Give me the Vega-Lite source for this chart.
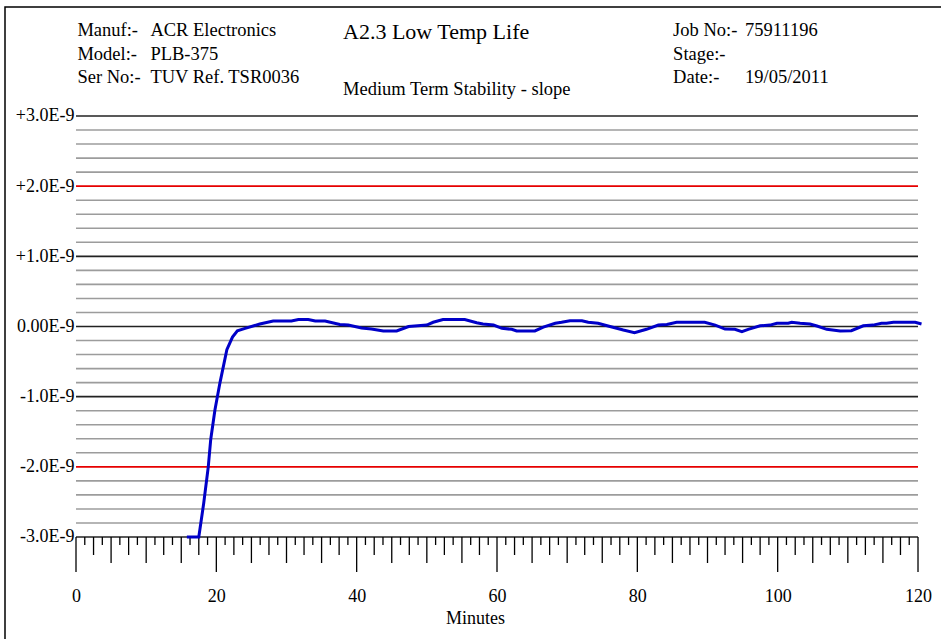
{
  "$schema": "https://vega.github.io/schema/vega-lite/v6.json",
  "width": 940,
  "height": 636,
  "autosize": {"type": "none"},
  "padding": {"left": 5, "top": 7, "right": 0, "bottom": 0},
  "background": "white",
  "config": {
    "view": {"stroke": "#000000", "strokeWidth": 1.5},
    "font": "Liberation Serif",
    "axis": {"grid": false, "domain": false, "ticks": false, "labels": false}
  },
  "datasets": {
    "grid": [
      {"g": -3}, {"g": -2.8}, {"g": -2.6}, {"g": -2.4}, {"g": -2.2},
      {"g": -2}, {"g": -1.8}, {"g": -1.6}, {"g": -1.4}, {"g": -1.2},
      {"g": -1}, {"g": -0.8}, {"g": -0.6}, {"g": -0.4}, {"g": -0.2},
      {"g": 0}, {"g": 0.2}, {"g": 0.4}, {"g": 0.6}, {"g": 0.8},
      {"g": 1}, {"g": 1.2}, {"g": 1.4}, {"g": 1.6}, {"g": 1.8},
      {"g": 2}, {"g": 2.2}, {"g": 2.4}, {"g": 2.6}, {"g": 2.8}, {"g": 3}
    ],
    "ticks": [
      {"t": 0}, {"t": 1.25}, {"t": 2.5}, {"t": 3.75}, {"t": 5}, {"t": 6.25}, {"t": 7.5}, {"t": 8.75},
      {"t": 10}, {"t": 11.25}, {"t": 12.5}, {"t": 13.75}, {"t": 15}, {"t": 16.25}, {"t": 17.5}, {"t": 18.75},
      {"t": 20}, {"t": 21.25}, {"t": 22.5}, {"t": 23.75}, {"t": 25}, {"t": 26.25}, {"t": 27.5}, {"t": 28.75},
      {"t": 30}, {"t": 31.25}, {"t": 32.5}, {"t": 33.75}, {"t": 35}, {"t": 36.25}, {"t": 37.5}, {"t": 38.75},
      {"t": 40}, {"t": 41.25}, {"t": 42.5}, {"t": 43.75}, {"t": 45}, {"t": 46.25}, {"t": 47.5}, {"t": 48.75},
      {"t": 50}, {"t": 51.25}, {"t": 52.5}, {"t": 53.75}, {"t": 55}, {"t": 56.25}, {"t": 57.5}, {"t": 58.75},
      {"t": 60}, {"t": 61.25}, {"t": 62.5}, {"t": 63.75}, {"t": 65}, {"t": 66.25}, {"t": 67.5}, {"t": 68.75},
      {"t": 70}, {"t": 71.25}, {"t": 72.5}, {"t": 73.75}, {"t": 75}, {"t": 76.25}, {"t": 77.5}, {"t": 78.75},
      {"t": 80}, {"t": 81.25}, {"t": 82.5}, {"t": 83.75}, {"t": 85}, {"t": 86.25}, {"t": 87.5}, {"t": 88.75},
      {"t": 90}, {"t": 91.25}, {"t": 92.5}, {"t": 93.75}, {"t": 95}, {"t": 96.25}, {"t": 97.5}, {"t": 98.75},
      {"t": 100}, {"t": 101.25}, {"t": 102.5}, {"t": 103.75}, {"t": 105}, {"t": 106.25}, {"t": 107.5}, {"t": 108.75},
      {"t": 110}, {"t": 111.25}, {"t": 112.5}, {"t": 113.75}, {"t": 115}, {"t": 116.25}, {"t": 117.5}, {"t": 118.75},
      {"t": 120}
    ],
    "slope": [
      {"t": 15.8, "v": -3.0}, {"t": 17.5, "v": -3.0}, {"t": 18.2, "v": -2.52}, {"t": 18.85, "v": -2.0},
      {"t": 19.2, "v": -1.61}, {"t": 19.8, "v": -1.19}, {"t": 20.5, "v": -0.81}, {"t": 21.5, "v": -0.33},
      {"t": 22.3, "v": -0.15}, {"t": 23.0, "v": -0.06}, {"t": 24.1, "v": -0.026}, {"t": 26.2, "v": 0.035},
      {"t": 28.1, "v": 0.078}, {"t": 30.7, "v": 0.078}, {"t": 31.7, "v": 0.1}, {"t": 33.1, "v": 0.1},
      {"t": 34.1, "v": 0.078}, {"t": 35.5, "v": 0.078}, {"t": 37.6, "v": 0.03}, {"t": 38.8, "v": 0.02},
      {"t": 40.7, "v": -0.02}, {"t": 42.1, "v": -0.035}, {"t": 43.8, "v": -0.064}, {"t": 45.7, "v": -0.064},
      {"t": 47.4, "v": 0.0}, {"t": 50.0, "v": 0.02}, {"t": 50.9, "v": 0.06}, {"t": 52.3, "v": 0.1},
      {"t": 55.4, "v": 0.1}, {"t": 57.1, "v": 0.054}, {"t": 58.0, "v": 0.036}, {"t": 59.5, "v": 0.02},
      {"t": 60.7, "v": -0.026}, {"t": 62.1, "v": -0.04}, {"t": 62.8, "v": -0.064}, {"t": 65.4, "v": -0.064},
      {"t": 66.6, "v": -0.01}, {"t": 68.3, "v": 0.046}, {"t": 69.2, "v": 0.06}, {"t": 70.4, "v": 0.083},
      {"t": 72.1, "v": 0.083}, {"t": 73.0, "v": 0.06}, {"t": 74.4, "v": 0.046}, {"t": 76.1, "v": 0.0},
      {"t": 78.0, "v": -0.05}, {"t": 79.6, "v": -0.088}, {"t": 81.3, "v": -0.04}, {"t": 83.0, "v": 0.02},
      {"t": 84.2, "v": 0.03}, {"t": 85.6, "v": 0.06}, {"t": 89.6, "v": 0.06}, {"t": 91.1, "v": 0.02},
      {"t": 92.5, "v": -0.036}, {"t": 93.9, "v": -0.04}, {"t": 94.9, "v": -0.074}, {"t": 95.8, "v": -0.04},
      {"t": 97.5, "v": 0.01}, {"t": 98.9, "v": 0.02}, {"t": 99.9, "v": 0.046}, {"t": 101.5, "v": 0.046},
      {"t": 102.0, "v": 0.06}, {"t": 103.2, "v": 0.046}, {"t": 104.6, "v": 0.036}, {"t": 105.6, "v": 0.007},
      {"t": 107.0, "v": -0.04}, {"t": 108.9, "v": -0.064}, {"t": 110.5, "v": -0.06}, {"t": 112.2, "v": 0.01},
      {"t": 113.6, "v": 0.02}, {"t": 114.8, "v": 0.046}, {"t": 115.5, "v": 0.046}, {"t": 116.5, "v": 0.06},
      {"t": 119.6, "v": 0.06}, {"t": 120.5, "v": 0.036}
    ]
  },
  "layer": [
    {
      "data": {"name": "grid"},
      "mark": {"type": "rule", "strokeWidth": 1.6},
      "encoding": {
        "y": {"field": "g", "type": "quantitative", "title": null, "scale": {"domain": [-4.5107, 4.5534], "nice": false, "zero": false}},
        "x": {"datum": 0, "type": "quantitative", "title": "Minutes", "scale": {"domain": [-10.119, 123.847], "nice": false, "zero": false}},
        "x2": {"datum": 120},
        "color": {
          "condition": [
            {"test": "abs(datum.g) == 2", "value": "#e60000"},
            {"test": "datum.g == round(datum.g)", "value": "#222222"}
          ],
          "value": "#9c9c9c"
        }
      }
    },
    {
      "data": {"name": "ticks"},
      "transform": [{"filter": "datum.t % 20 == 0"}],
      "mark": {"type": "rule", "strokeWidth": 1.3, "color": "#000000"},
      "encoding": {
        "x": {"field": "t", "type": "quantitative", "title": "Minutes"},
        "y": {"datum": -3, "type": "quantitative", "title": null},
        "y2": {"datum": -3.4988}
      }
    },
    {
      "data": {"name": "ticks"},
      "transform": [{"filter": "datum.t % 20 != 0 && datum.t % 5 == 0"}],
      "mark": {"type": "rule", "strokeWidth": 1.3, "color": "#000000"},
      "encoding": {
        "x": {"field": "t", "type": "quantitative", "title": "Minutes"},
        "y": {"datum": -3, "type": "quantitative", "title": null},
        "y2": {"datum": -3.3705}
      }
    },
    {
      "data": {"name": "ticks"},
      "transform": [{"filter": "datum.t % 5 != 0 && datum.t % 2.5 == 0"}],
      "mark": {"type": "rule", "strokeWidth": 1.3, "color": "#000000"},
      "encoding": {
        "x": {"field": "t", "type": "quantitative", "title": "Minutes"},
        "y": {"datum": -3, "type": "quantitative", "title": null},
        "y2": {"datum": -3.2565}
      }
    },
    {
      "data": {"name": "ticks"},
      "transform": [{"filter": "datum.t % 2.5 != 0"}],
      "mark": {"type": "rule", "strokeWidth": 1.3, "color": "#000000"},
      "encoding": {
        "x": {"field": "t", "type": "quantitative", "title": "Minutes"},
        "y": {"datum": -3, "type": "quantitative", "title": null},
        "y2": {"datum": -3.114}
      }
    },
    {
      "data": {"name": "slope"},
      "mark": {"type": "line", "color": "#0000c8", "strokeWidth": 3, "clip": false},
      "encoding": {
        "x": {
          "field": "t", "type": "quantitative",
          "scale": {"domain": [-10.119, 123.847], "nice": false, "zero": false},
          "axis": {
            "orient": "bottom", "offset": -106,
            "values": [0, 20, 40, 60, 80, 100, 120],
            "domain": false, "grid": false, "ticks": false, "labels": true,
            "format": "d",
            "labelFont": "Liberation Serif", "labelFontSize": 18, "labelColor": "#000000",
            "labelPadding": 50, "labelOverlap": false, "labelFlush": false, "labelBound": false,
            "title": "Minutes", "titleFont": "Liberation Serif", "titleFontSize": 18,
            "titleFontWeight": "normal", "titleColor": "#000000", "titlePadding": 4
          }
        },
        "y": {
          "field": "v", "type": "quantitative",
          "scale": {"domain": [-4.5107, 4.5534], "nice": false, "zero": false},
          "axis": {
            "orient": "left", "offset": -71,
            "values": [-3, -2, -1, 0, 1, 2, 3],
            "domain": false, "ticks": false, "grid": false, "labels": true,
            "labelPadding": 2,
            "labelExpr": "datum.value == 0 ? '0.00E-9' : (datum.value > 0 ? '+' : '-') + format(abs(datum.value), '.1f') + 'E-9'",
            "labelFont": "Liberation Serif", "labelFontSize": 18, "labelColor": "#000000",
            "labelOverlap": false, "labelFlush": false, "labelBound": false,
            "title": null
          }
        }
      }
    },
    {
      "data": {"values": [{}]},
      "mark": {"type": "text", "align": "left", "baseline": "alphabetic", "fontSize": 18.5, "lineHeight": 23.6, "color": "#000000", "font": "Liberation Serif"},
      "encoding": {
        "x": {"datum": 0.2, "type": "quantitative", "title": "Minutes"},
        "y": {"datum": 4.1401, "type": "quantitative", "title": null},
        "text": {"value": ["Manuf:-", "Model:-", "Ser No:-"]}
      }
    },
    {
      "data": {"values": [{}]},
      "mark": {"type": "text", "align": "left", "baseline": "alphabetic", "fontSize": 18.5, "lineHeight": 23.6, "color": "#000000", "font": "Liberation Serif"},
      "encoding": {
        "x": {"datum": 10.6, "type": "quantitative", "title": "Minutes"},
        "y": {"datum": 4.1401, "type": "quantitative", "title": null},
        "text": {"value": ["ACR Electronics", "PLB-375", "TUV Ref. TSR0036"]}
      }
    },
    {
      "data": {"values": [{}]},
      "mark": {"type": "text", "align": "left", "baseline": "alphabetic", "fontSize": 22, "color": "#000000", "font": "Liberation Serif"},
      "encoding": {
        "x": {"datum": 38.05, "type": "quantitative", "title": "Minutes"},
        "y": {"datum": 4.0903, "type": "quantitative", "title": null},
        "text": {"value": "A2.3 Low Temp Life"}
      }
    },
    {
      "data": {"values": [{}]},
      "mark": {"type": "text", "align": "left", "baseline": "alphabetic", "fontSize": 18.5, "color": "#000000", "font": "Liberation Serif"},
      "encoding": {
        "x": {"datum": 38.05, "type": "quantitative", "title": "Minutes"},
        "y": {"datum": 3.2993, "type": "quantitative", "title": null},
        "text": {"value": "Medium Term Stability - slope"}
      }
    },
    {
      "data": {"values": [{}]},
      "mark": {"type": "text", "align": "left", "baseline": "alphabetic", "fontSize": 18.5, "lineHeight": 23.6, "color": "#000000", "font": "Liberation Serif"},
      "encoding": {
        "x": {"datum": 85.1, "type": "quantitative", "title": "Minutes"},
        "y": {"datum": 4.1401, "type": "quantitative", "title": null},
        "text": {"value": ["Job No:-", "Stage:-", "Date:-"]}
      }
    },
    {
      "data": {"values": [{}]},
      "mark": {"type": "text", "align": "left", "baseline": "alphabetic", "fontSize": 18.5, "color": "#000000", "font": "Liberation Serif"},
      "encoding": {
        "x": {"datum": 95.35, "type": "quantitative", "title": "Minutes"},
        "y": {"datum": 4.1401, "type": "quantitative", "title": null},
        "text": {"value": "75911196"}
      }
    },
    {
      "data": {"values": [{}]},
      "mark": {"type": "text", "align": "left", "baseline": "alphabetic", "fontSize": 18.5, "color": "#000000", "font": "Liberation Serif"},
      "encoding": {
        "x": {"datum": 95.35, "type": "quantitative", "title": "Minutes"},
        "y": {"datum": 3.4675, "type": "quantitative", "title": null},
        "text": {"value": "19/05/2011"}
      }
    }
  ]
}
